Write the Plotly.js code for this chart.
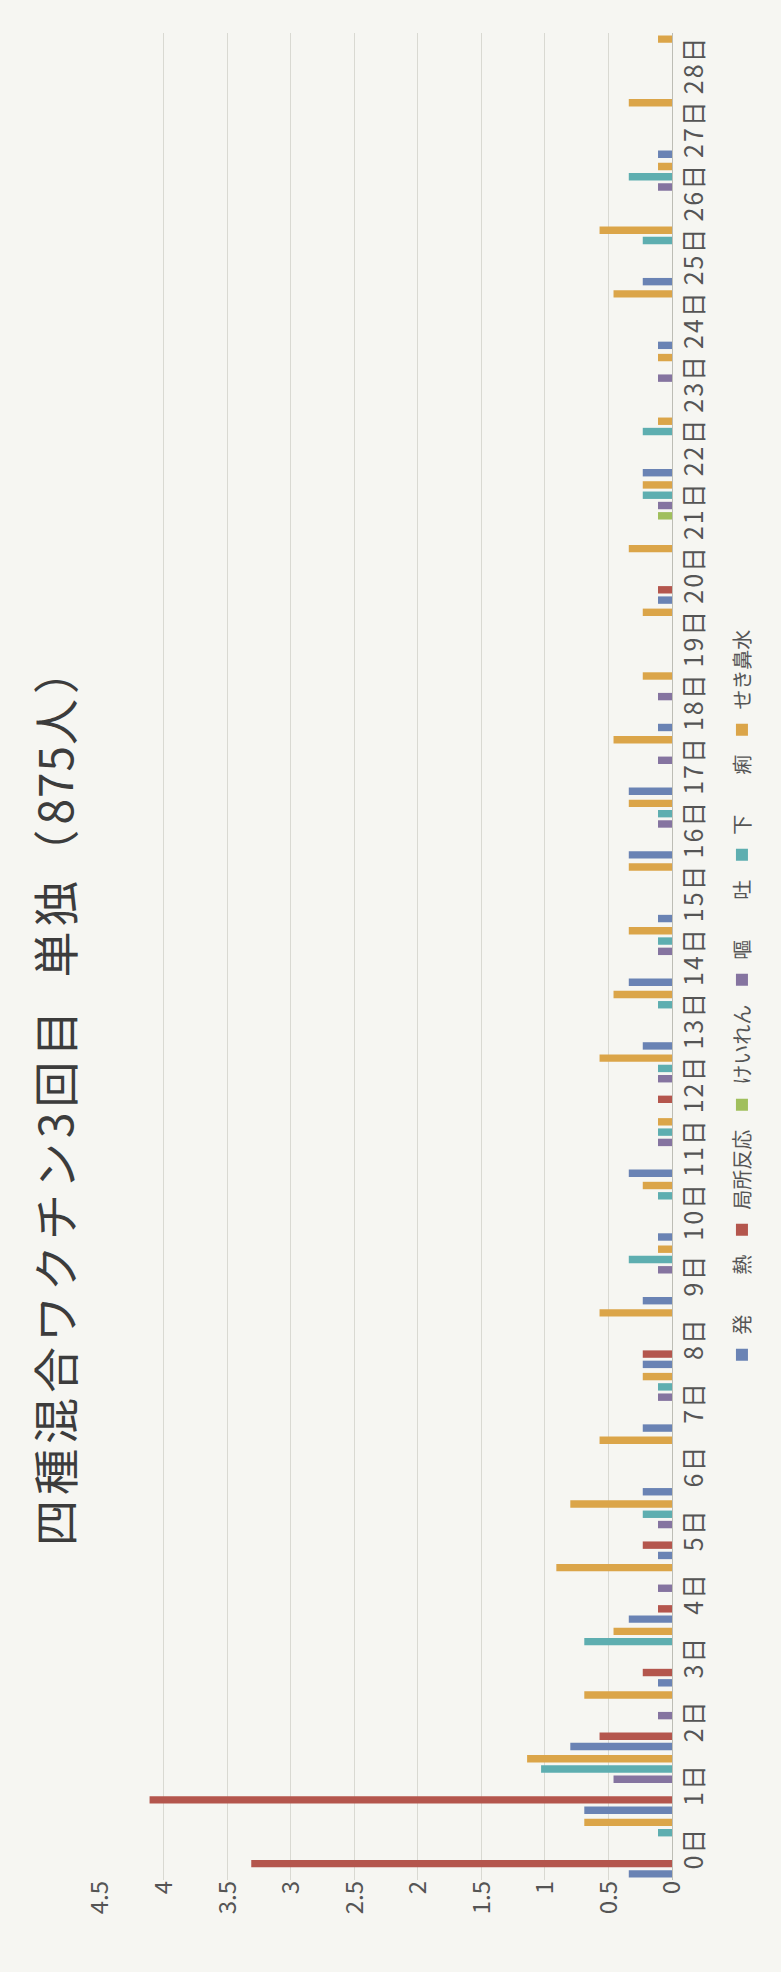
<!DOCTYPE html>
<html>
<head>
<meta charset="utf-8">
<script src="https://cdn.plot.ly/plotly-3.0.1.min.js"></script>
<style>
  html, body { margin: 0; padding: 0; overflow: hidden; width: 781px; height: 1972px; background: #f6f6f2; }
  #chart {
    position: absolute; left: 0; top: 0;
    width: 1972px; height: 781px;
    transform-origin: 0 0;
    transform: translateY(1972px) rotate(-90deg);
  }
  #chart .gtitle { letter-spacing: 5px; }
  #chart .xtick text { letter-spacing: 2px; }
</style>
</head>
<body>
<div id="chart"></div>
<script>
// Categories (days after vaccination)
const days = ['0日','1日','2日','3日','4日','5日','6日','7日','8日','9日','10日','11日','12日','13日','14日',
              '15日','16日','17日','18日','19日','20日','21日','22日','23日','24日','25日','26日','27日','28日'];

// Series values (%)
const fever    = [0.34,0.69,0.80,0.11,0.34,0.11,0.23,0.23,0.23,0.23,0.11,0.34,0,0.23,0.34,0.11,0.34,0.34,0.11,0,0.11,0,0.23,0,0.11,0.23,0,0.11,0];
const local    = [3.31,4.11,0.57,0.23,0.11,0.23,0,0,0.23,0,0,0,0.11,0,0,0,0,0,0,0,0.11,0,0,0,0,0,0,0,0];
const seizure  = [0,0,0,0,0,0,0,0,0,0,0,0,0,0,0,0,0,0,0,0,0,0.11,0,0,0,0,0,0,0];
const vomit    = [0,0.46,0.11,0,0.11,0.11,0,0.11,0,0.11,0,0.11,0.11,0,0.11,0,0.11,0.11,0.11,0,0,0.11,0,0.11,0,0,0.11,0,0];
const diarrhea = [0.11,1.03,0,0.69,0,0.23,0,0.11,0,0.34,0.11,0.11,0.11,0.11,0.11,0,0.11,0,0,0,0,0.23,0.23,0,0,0.23,0.34,0,0];
const cough    = [0.69,1.14,0.69,0.46,0.91,0.80,0.57,0.23,0.57,0.11,0.23,0.11,0.57,0.46,0.34,0.34,0.34,0.46,0.23,0.23,0.34,0.23,0.11,0.11,0.46,0.57,0.11,0.34,0.11];

const seriesNames = ['発　　熱','局所反応','けいれん','嘔　　吐','下　　痢','せき鼻水'];
const seriesData  = [fever, local, seizure, vomit, diarrhea, cough];
const seriesColors = ['#6a83b4','#b4564d','#a0bf5c','#8574a0','#5eaeb0','#dba549'];

const valueTicks = [0,0.5,1,1.5,2,2.5,3,3.5,4,4.5];
const valueTickText = ['0','0.5','1','1.5','2','2.5','3','3.5','4','4.5'];

const FONT = '"Noto Sans CJK JP", "Noto Sans", sans-serif';

const traces = seriesNames.map((name, i) => ({
  type: 'bar',
  name: name,
  x: days,
  y: seriesData[i],
  marker: { color: seriesColors[i], line: { width: 0 } },
  hoverinfo: 'skip'
}));

const layout = {
  width: 1972,
  height: 781,
  margin: { l: 92, r: 33, t: 100, b: 109 },
  paper_bgcolor: '#f6f6f2',
  plot_bgcolor: '#f6f6f2',
  barmode: 'group',
  bargap: 0.03,
  bargroupgap: 0.28,
  font: { family: FONT, color: '#555555' },
  title: {
    text: '四種混合ワクチン3回目\u2002単独（<span style="letter-spacing:1px">875</span>人）',
    font: { family: FONT, size: 46, color: '#3c3c3c' },
    xref: 'container', x: 0.445, xanchor: 'center',
    yref: 'container', y: 0.927, yanchor: 'middle'
  },
  xaxis: {
    type: 'category',
    tickfont: { family: FONT, size: 25, color: '#555555' },
    showgrid: false,
    showline: true, linecolor: '#bdbdb5', linewidth: 1,
    ticks: '', ticklen: 0,
    tickangle: 0,
    fixedrange: true
  },
  yaxis: {
    range: [0, 4.5],
    tickvals: valueTicks,
    ticktext: valueTickText,
    tickfont: { family: FONT, size: 24, color: '#555555' },
    showgrid: true, gridcolor: '#d9d9d2', gridwidth: 1,
    zeroline: false,
    showline: false,
    ticks: '',
    fixedrange: true
  },
  showlegend: true,
  legend: {
    orientation: 'h',
    xref: 'container', x: 0.493, xanchor: 'center',
    yref: 'container', y: 0.05, yanchor: 'middle',
    font: { family: FONT, size: 20, color: '#555555' },
    bgcolor: 'rgba(0,0,0,0)',
    traceorder: 'normal'
  }
};

Plotly.newPlot('chart', traces, layout, { staticPlot: true, displayModeBar: false });
</script>
</body>
</html>
